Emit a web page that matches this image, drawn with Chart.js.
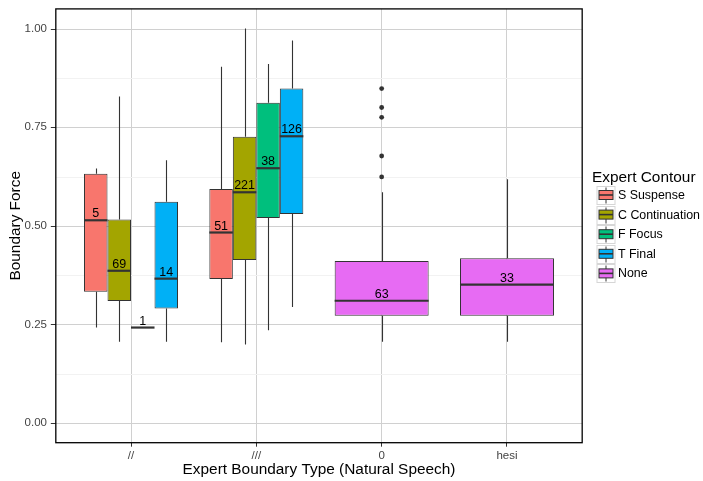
<!DOCTYPE html>
<html>
<head>
<meta charset="utf-8">
<script src="https://cdn.jsdelivr.net/npm/chart.js@4.4.0/dist/chart.umd.min.js"></script>
<style>
  html, body { margin: 0; padding: 0; background: #fff; }
</style>
</head>
<body>
<canvas id="chart" width="703" height="481"></canvas>
<script>
// --- data ---
const categories = ['//', '///', '0', 'hesi'];
const seriesNames = ['S Suspense', 'C Continuation', 'F Focus', 'T Final', 'None'];

// each entry: [lower whisker, Q1, median, Q3, upper whisker], null = no box
const suspenseStats = [[0.242, 0.333, 0.514, 0.632, 0.645], [0.205, 0.365, 0.483, 0.593, 0.903], null, null];
const continuationStats = [[0.206, 0.309, 0.386, 0.516, 0.828], [0.199, 0.413, 0.585, 0.726, 1.000], null, null];
const focusStats = [[0.242, 0.242, 0.242, 0.242, 0.242], [0.235, 0.520, 0.646, 0.812, 0.910], null, null];
const finalStats = [[0.206, 0.290, 0.366, 0.561, 0.666], [0.294, 0.530, 0.727, 0.848, 0.970], null, null];
const noneStats = [null, null, [0.206, 0.272, 0.310, 0.411, 0.585], [0.206, 0.272, 0.351, 0.418, 0.618]];

// number of items per box (printed above the median)
const suspenseCounts = [5, 51, null, null];
const continuationCounts = [69, 221, null, null];
const focusCounts = [1, 38, null, null];
const finalCounts = [14, 126, null, null];
const noneCounts = [null, null, 63, 33];

// outlier points
const noneOutliers = [[], [], [0.848, 0.800, 0.775, 0.677, 0.624], []];

const yTicks = [0, 0.25, 0.5, 0.75, 1];

const FONT = '"Liberation Sans", Arial, Helvetica, sans-serif';
const palette = ['#F8766D', '#A3A500', '#00BF7D', '#00B0F6', '#E76BF3'];

const allStats = [suspenseStats, continuationStats, focusStats, finalStats, noneStats];
const allCounts = [suspenseCounts, continuationCounts, focusCounts, finalCounts, noneCounts];
const allOutliers = [[], [], [], [], noneOutliers];

const datasets = seriesNames.map((name, k) => ({
    label: name,
    data: allStats[k].map(s => s ? [s[1], s[3]] : null),
    stats: allStats[k],
    counts: allCounts[k],
    outliers: allOutliers[k],
    backgroundColor: palette[k]
}));

// panel box (ggplot style: discrete axis expanded by 0.6 of a category)
function panelRect(chart) {
    const x = chart.scales.x, y = chart.scales.y;
    const step = x.getPixelForValue(1) - x.getPixelForValue(0);
    return {
        left: x.getPixelForValue(0) - 0.6 * step,
        right: x.getPixelForValue(categories.length - 1) + 0.6 * step,
        top: y.getPixelForValue(y.max),
        bottom: y.getPixelForValue(y.min)
    };
}

const boxplotPlugin = {
    id: 'boxplot',
    beforeDatasetsDraw(chart) {
        const { ctx } = chart;
        const y = chart.scales.y;
        const p = panelRect(chart);
        ctx.save();
        // minor grid lines
        ctx.lineWidth = 1;
        ctx.strokeStyle = '#f2f2f2';
        for (let i = 0; i < yTicks.length - 1; i++) {
            const py = Math.round(y.getPixelForValue((yTicks[i] + yTicks[i + 1]) / 2)) + 0.5;
            ctx.beginPath(); ctx.moveTo(p.left, py); ctx.lineTo(p.right, py); ctx.stroke();
        }
        // major grid lines + tick marks
        yTicks.forEach(v => {
            const py = Math.round(y.getPixelForValue(v)) + 0.5;
            ctx.strokeStyle = '#d0d0d0';
            ctx.beginPath(); ctx.moveTo(p.left, py); ctx.lineTo(p.right, py); ctx.stroke();
            ctx.strokeStyle = '#333';
            ctx.beginPath(); ctx.moveTo(p.left - 5, py); ctx.lineTo(p.left, py); ctx.stroke();
        });
        // whiskers
        ctx.strokeStyle = '#333';
        ctx.lineWidth = 1.1;
        chart.data.datasets.forEach((ds, di) => {
            chart.getDatasetMeta(di).data.forEach((bar, i) => {
                const s = ds.stats[i];
                if (!s) return;
                const bx = Math.round(bar.x) + 0.5;
                ctx.beginPath();
                ctx.moveTo(bx, y.getPixelForValue(s[0]));
                ctx.lineTo(bx, y.getPixelForValue(s[1]));
                ctx.moveTo(bx, y.getPixelForValue(s[3]));
                ctx.lineTo(bx, y.getPixelForValue(s[4]));
                ctx.stroke();
            });
        });
        ctx.restore();
    },
    afterDatasetsDraw(chart) {
        const { ctx } = chart;
        const y = chart.scales.y;
        const p = panelRect(chart);
        ctx.save();
        chart.data.datasets.forEach((ds, di) => {
            chart.getDatasetMeta(di).data.forEach((bar, i) => {
                const s = ds.stats[i];
                if (!s) return;
                const my = y.getPixelForValue(s[2]);
                // median
                ctx.strokeStyle = '#333';
                ctx.lineWidth = 2.2;
                ctx.beginPath();
                ctx.moveTo(bar.x - bar.width / 2, my);
                ctx.lineTo(bar.x + bar.width / 2, my);
                ctx.stroke();
                // outliers
                ctx.fillStyle = '#333';
                (ds.outliers[i] || []).forEach(v => {
                    ctx.beginPath();
                    ctx.arc(bar.x, y.getPixelForValue(v), 2.4, 0, Math.PI * 2);
                    ctx.fill();
                });
                // count label
                if (ds.counts[i] != null) {
                    ctx.fillStyle = '#000';
                    ctx.font = '12.5px ' + FONT;
                    ctx.textAlign = 'center';
                    ctx.textBaseline = 'alphabetic';
                    ctx.fillText(String(ds.counts[i]), bar.x, my - 3);
                }
            });
        });
        // panel border
        ctx.strokeStyle = '#000';
        ctx.lineWidth = 1.3;
        ctx.strokeRect(p.left, p.top, p.right - p.left, p.bottom - p.top);
        ctx.restore();
    },
    afterDraw(chart) {
        // legend, ggplot style
        const { ctx } = chart;
        const keyLeft = 597, keySize = 18, titleY = 177, rowY0 = 195, rowGap = 19.6;
        ctx.save();
        ctx.fillStyle = '#000';
        ctx.font = '15.4px ' + FONT;
        ctx.textAlign = 'left';
        ctx.textBaseline = 'middle';
        ctx.fillText('Expert Contour', 592, titleY + 1);
        seriesNames.forEach((name, k) => {
            const cy = rowY0 + k * rowGap;
            const top = Math.round(cy - keySize / 2) + 0.5;
            ctx.lineWidth = 1;
            ctx.strokeStyle = '#d6d6d6';
            ctx.fillStyle = '#fff';
            ctx.fillRect(keyLeft, top, keySize, keySize);
            ctx.strokeRect(keyLeft, top, keySize, keySize);
            const cx = keyLeft + keySize / 2;
            ctx.strokeStyle = '#333';
            ctx.beginPath(); ctx.moveTo(cx, top + 1); ctx.lineTo(cx, top + keySize - 1); ctx.stroke();
            ctx.fillStyle = palette[k];
            ctx.fillRect(keyLeft + 2, cy - 4.5, keySize - 4, 9);
            ctx.strokeRect(keyLeft + 2, cy - 4.5, keySize - 4, 9);
            ctx.lineWidth = 1.6;
            ctx.beginPath(); ctx.moveTo(keyLeft + 2, cy); ctx.lineTo(keyLeft + keySize - 2, cy); ctx.stroke();
            ctx.fillStyle = '#000';
            ctx.font = '12.4px ' + FONT;
            ctx.fillText(name, 618, cy + 0.5);
        });
        ctx.restore();
    }
};

new Chart(document.getElementById('chart'), {
    type: 'bar',
    data: { labels: categories, datasets: datasets },
    options: {
        responsive: false,
        animation: false,
        layout: { padding: { top: 8.6, right: 133.35, bottom: 0, left: 0 } },
        datasets: {
            bar: {
                categoryPercentage: 0.75,
                barPercentage: 1,
                skipNull: true,
                borderSkipped: false,
                borderWidth: 1,
                borderColor: '#333'
            }
        },
        plugins: { legend: { display: false }, tooltip: { enabled: false } },
        scales: {
            x: {
                type: 'category',
                offset: true,
                grid: { offset: false, color: '#d0d0d0', lineWidth: 1, tickLength: 4, tickColor: '#333' },
                border: { display: false },
                ticks: { color: '#444', font: { family: FONT, size: 11.5 }, padding: 2.5 },
                title: {
                    display: true, text: 'Expert Boundary Type (Natural Speech)', color: '#000',
                    font: { family: FONT, size: 15.4 }, padding: { top: 0, bottom: 1.8 }
                },
                afterFit: s => { s.height = 38.3; }
            },
            y: {
                min: -0.05,
                max: 1.05,
                // invisible tick marks only reserve the gap between labels and panel
                grid: { display: true, drawOnChartArea: false, drawTicks: true, tickLength: 19.35, color: 'rgba(0,0,0,0)', tickColor: 'rgba(0,0,0,0)' },
                border: { display: false },
                ticks: {
                    stepSize: 0.25, includeBounds: false, padding: 2,
                    color: '#444', font: { family: FONT, size: 11.5 },
                    callback: v => v.toFixed(2)
                },
                title: {
                    display: true, text: 'Boundary Force', color: '#000',
                    font: { family: FONT, size: 15.4 }, padding: { top: 6.8, bottom: 0 }
                },
                afterFit: s => { s.width = 68.35; }
            }
        }
    },
    plugins: [boxplotPlugin]
});
</script>
</body>
</html>
